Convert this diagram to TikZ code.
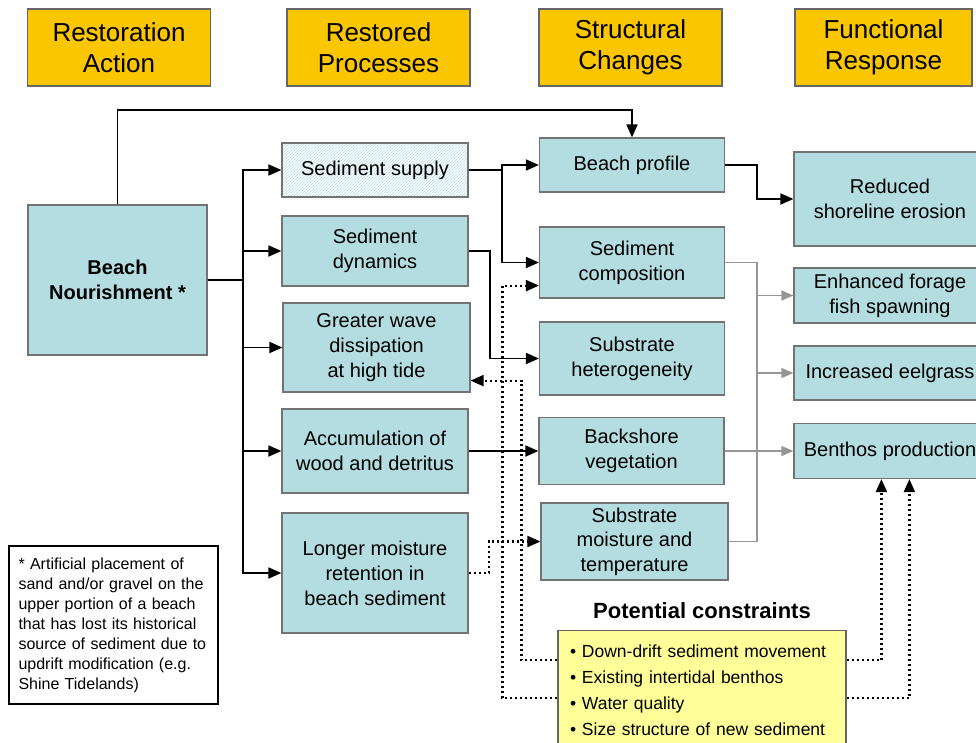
\documentclass[tikz,border=0pt]{standalone}
\usepackage{fontspec}
\setmainfont{Liberation Sans}
\usetikzlibrary{arrows.meta,patterns,calc}
\definecolor{boxfill}{RGB}{180,221,226}
\definecolor{headfill}{RGB}{250,198,0}
\definecolor{notefill}{RGB}{255,255,153}
\definecolor{linegray}{RGB}{150,150,150}

\begin{document}
\begin{tikzpicture}[x=1pt,y=-1pt]
    \tikzstyle{box}=[draw=black!55,line width=1.2pt,fill=boxfill,align=center,inner sep=0pt,font=\fontsize{20}{25}\selectfont]
    \tikzstyle{proc}=[box,minimum width=186pt]
    \tikzstyle{change}=[box,minimum width=185pt]
    \tikzstyle{resp}=[box,minimum width=192pt]
    \tikzstyle{head}=[draw=black!60,line width=1.2pt,fill=headfill,align=center,minimum width=183pt,minimum height=77pt,font=\fontsize{26}{31}\selectfont]
    \tikzstyle{conn}=[line width=1.8pt,-{Triangle[length=13pt,width=11pt]}]
    \tikzstyle{gline}=[line width=1.4pt,draw=linegray]
    \tikzstyle{garrow}=[gline,-{Triangle[length=12pt,width=10pt]},linegray]
    \tikzstyle{dots}=[line width=2.2pt,dash pattern=on 2pt off 3pt,-{Triangle[length=13pt,width=11pt]}]

    \useasboundingbox (0,0) rectangle (976,742);
    \clip (0,0) rectangle (976,742);

    % Draw the column headers
    \node[head] (H-1) at (119,47.5) {Restoration\\Action};
    \node[head] (H-2) at (378.5,47.5) {Restored\\Processes};
    \node[head] (H-3) at (630.5,47.5) {Structural\\Changes};
    \node[head,minimum width=177pt] (H-4) at (883.5,47.5) {Functional\\Response};

    % Draw the restoration action
    \node[box,font=\fontsize{20}{25}\selectfont\bfseries,minimum width=179pt,minimum height=150pt] (A) at (117.5,280) {Beach\\Nourishment *};

    % Draw the restored processes
    \node[proc,draw=black!55,minimum height=54pt,fill=white,preaction={fill=white},pattern=north east lines,pattern color=boxfill] (P-1) at (375,170) {};
    \node[font=\fontsize{20}{25}\selectfont] at (P-1) {Sediment supply};
    \node[proc,minimum height=70pt] (P-2) at (375,251) {Sediment\\dynamics};
    \node[proc,minimum width=187pt,minimum height=89pt] (P-3) at (376.5,347.5) {Greater wave\\dissipation\\at high tide};
    \node[proc,minimum height=84pt] (P-4) at (375,451) {Accumulation of\\wood and detritus};
    \node[proc,minimum height=120pt] (P-5) at (375,573) {Longer moisture\\retention in\\beach sediment};

    % Draw the structural changes
    \node[change,minimum height=54pt] (S-1) at (632,165) {Beach profile};
    \node[change,minimum height=71pt] (S-2) at (632,262.5) {Sediment\\composition};
    \node[change,minimum height=73pt] (S-3) at (632,358.5) {Substrate\\heterogeneity};
    \node[change,minimum height=67pt] (S-4) at (631.5,451) {Backshore\\vegetation};
    \node[change,minimum width=187pt,minimum height=77pt,font=\fontsize{20}{24.5}\selectfont] (S-5) at (634.5,541.5) {Substrate\\moisture and\\temperature};

    % Draw the functional responses
    \node[resp,minimum height=94pt] (F-1) at (890,199) {Reduced\\shoreline erosion};
    \node[resp,minimum height=55pt] (F-2) at (890,295.5) {Enhanced forage\\fish spawning};
    \node[resp,minimum height=54pt] (F-3) at (890,373) {Increased eelgrass};
    \node[resp,minimum height=55pt] (F-4) at (890,451) {Benthos production};

    % Footnote and constraints
    \node[draw=black,line width=1.5pt,fill=white,text width=190pt,align=left,inner xsep=9.5pt,minimum height=158pt,font=\fontsize{16}{20}\selectfont] (N) at (113.5,625) {* Artificial placement of\\sand and/or gravel on the\\upper portion of a beach\\that has lost its historical\\source of sediment due to\\updrift modification (e.g.\\Shine Tidelands)};
    \node[draw=black!60,line width=1.2pt,fill=notefill,anchor=north,text width=264pt,align=left,inner xsep=12pt,inner ysep=14pt,font=\fontsize{17.5}{26}\selectfont] (C) at (702,630) {• Down-drift sediment movement\\• Existing intertidal benthos\\• Water quality\\• Size structure of new sediment\\[4pt]};
    \node[font=\fontsize{22}{26}\selectfont\bfseries] (T) at (702,611) {Potential constraints};

    \coordinate (top) at (0,110);
    \coordinate (J) at (243,0);
    \coordinate (K) at (502,0);
    \coordinate (G) at (757,0);

    % Connect the action with every restored process
    \foreach \i in {1,...,5}
        \draw[conn] (A.east) -- (A.east -| J) |- (P-\i.west);
    \draw[conn] (A.north) -- (A.north |- top) -| (S-1.north);

    % Connect the processes with the structural changes
    \draw[conn] (P-1.east) -- (P-1.east -| K) |- (S-1.west);
    \draw[conn] (P-1.east -| K) |- (S-2.west);
    \draw[conn] (P-2.east) -- ++(21,0) |- (S-3.west);
    \draw[conn] (P-4.east) -- (S-4.west);
    \draw[dots] (P-5.east) -- ++(20,0) |- (S-5.west);

    % Connect the structural changes with the responses
    \draw[conn] (S-1.east) -- (S-1.east -| G) |- (F-1.west);
    \draw[gline] (S-2.east) -- (S-2.east -| G) -- (S-5.east -| G) -- (S-5.east);
    \foreach \i in {2,3}
        \draw[garrow] (F-\i.west -| G) -- (F-\i.west);
    \draw[garrow] (S-4.east) -- (F-4.west);

    % Constraints
    \draw[dots] ($(C.north west)+(0,30)$) -- ++(-36,0) |- ($(P-3.south east)+(0,-12)$);
    \draw[dots] ($(C.north west)+(0,68)$) -- ++(-55,0) |- ($(S-2.south west)+(0,-13)$);
    \draw[dots] ($(C.north east)+(0,30)$) -| ($(F-4.south west)+(88,0)$);
    \draw[dots] ($(C.north east)+(0,68)$) -| ($(F-4.south west)+(116,0)$);
\end{tikzpicture}
\end{document}
